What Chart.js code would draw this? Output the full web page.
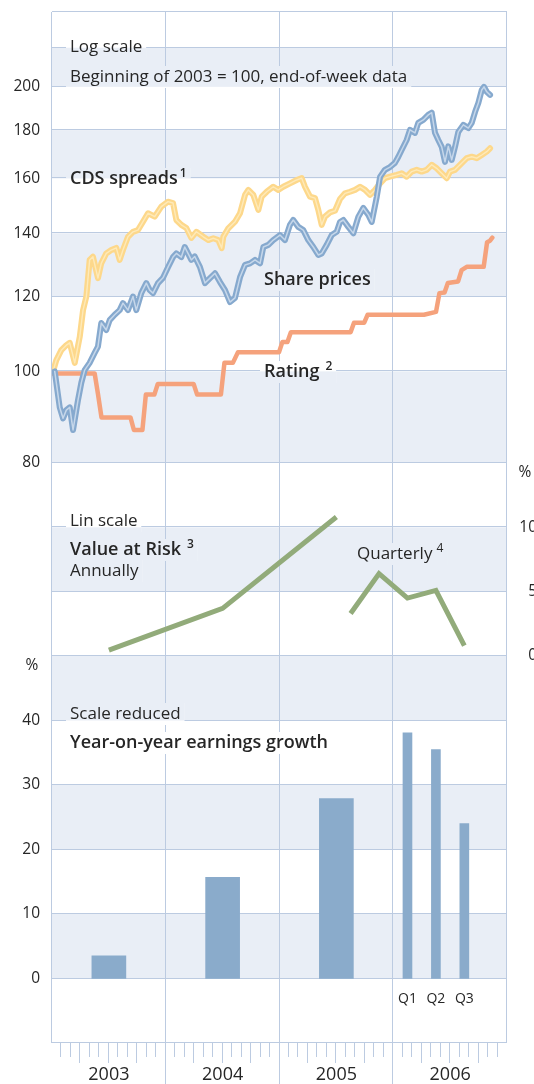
<!DOCTYPE html>
<html>
<head>
<meta charset="utf-8">
<script src="https://cdn.jsdelivr.net/npm/chart.js@4.4.1/dist/chart.umd.min.js"></script>
<style>
  html, body { margin: 0; padding: 0; width: 534px; height: 1084px; overflow: hidden; background: #fff; }
  canvas { position: absolute; left: 0; top: 0; }
</style>
</head>
<body>
<canvas id="chartLog" width="539" height="1084"></canvas>
<canvas id="chartVar" width="539" height="1084"></canvas>
<canvas id="chartEarn" width="539" height="1084"></canvas>
<script>
// --- datos (fecha en años decimales) ---
const shareDates = [2003.024, 2003.068, 2003.097, 2003.126, 2003.156, 2003.185, 2003.229, 2003.258, 2003.287, 2003.331, 2003.375, 2003.404, 2003.433, 2003.477, 2003.507, 2003.551, 2003.595, 2003.624, 2003.668, 2003.712, 2003.741, 2003.785, 2003.829, 2003.859, 2003.888, 2003.932, 2003.976,
  2004.020, 2004.064, 2004.093, 2004.137, 2004.167, 2004.196, 2004.225, 2004.255, 2004.301, 2004.345, 2004.389, 2004.433, 2004.477, 2004.521, 2004.565, 2004.609, 2004.653, 2004.697, 2004.741, 2004.785, 2004.829, 2004.858, 2004.902, 2004.945,
  2005.004, 2005.048, 2005.092, 2005.121, 2005.165, 2005.209, 2005.253, 2005.297, 2005.341, 2005.371, 2005.415, 2005.459, 2005.503, 2005.532, 2005.561, 2005.605, 2005.649, 2005.693, 2005.737, 2005.781, 2005.811, 2005.855, 2005.884, 2005.927, 2005.971,
  2006.015, 2006.044, 2006.074, 2006.118, 2006.147, 2006.191, 2006.220, 2006.264, 2006.308, 2006.338, 2006.367, 2006.396, 2006.426, 2006.455, 2006.484, 2006.514, 2006.543, 2006.572, 2006.616, 2006.660, 2006.690, 2006.719, 2006.748, 2006.778, 2006.798, 2006.822, 2006.851];
const shareValues = [100.0, 91.6, 89.2, 91.0, 91.6, 86.7, 93.3, 97.3, 100.3, 102.1, 104.6, 106.2, 112.5, 110.6, 113.3, 114.8, 116.1, 118.1, 116.1, 120.0, 116.1, 121.0, 124.0, 121.9, 121.0, 124.0, 125.6,
  128.9, 132.1, 133.3, 132.1, 135.4, 133.3, 131.2, 132.3, 128.9, 124.0, 125.5, 127.0, 124.3, 121.9, 118.4, 119.6, 125.8, 129.6, 130.1, 131.2, 130.1, 135.4, 136.1, 137.7,
  139.4, 137.7, 142.9, 144.6, 142.2, 141.1, 137.7, 135.4, 132.8, 133.3, 136.1, 139.4, 140.5, 143.9, 144.6, 142.2, 140.0, 145.7, 148.9, 146.4, 143.9, 153.0, 160.6, 163.4, 164.5,
  166.2, 168.6, 171.5, 175.7, 180.1, 178.8, 183.2, 184.5, 186.8, 187.8, 178.8, 175.7, 172.8, 166.6, 173.0, 167.4, 172.8, 179.2, 182.3, 180.9, 183.2, 188.1, 192.3, 198.5, 200.0, 197.6, 196.1];

const cdsDates = [2003.009, 2003.038, 2003.082, 2003.126, 2003.156, 2003.200, 2003.244, 2003.273, 2003.302, 2003.331, 2003.360, 2003.404, 2003.433, 2003.477, 2003.521, 2003.565, 2003.595, 2003.624, 2003.668, 2003.712, 2003.756, 2003.800, 2003.844, 2003.903, 2003.961,
  2004.020, 2004.064, 2004.093, 2004.137, 2004.181, 2004.225, 2004.269, 2004.330, 2004.374, 2004.418, 2004.462, 2004.492, 2004.506, 2004.550, 2004.609, 2004.653, 2004.697, 2004.726, 2004.770, 2004.814, 2004.844, 2004.888, 2004.945, 2004.989,
  2005.033, 2005.092, 2005.151, 2005.195, 2005.224, 2005.268, 2005.312, 2005.341, 2005.371, 2005.400, 2005.444, 2005.488, 2005.532, 2005.576, 2005.620, 2005.664, 2005.708, 2005.752, 2005.796, 2005.840, 2005.884, 2005.927, 2005.971,
  2006.030, 2006.074, 2006.118, 2006.162, 2006.206, 2006.250, 2006.294, 2006.338, 2006.382, 2006.426, 2006.470, 2006.499, 2006.543, 2006.587, 2006.646, 2006.690, 2006.734, 2006.778, 2006.822, 2006.851];
const cdsValues = [100.0, 102.8, 105.3, 106.6, 107.2, 102.1, 108.8, 116.1, 120.0, 131.2, 132.2, 125.5, 130.1, 133.3, 134.4, 135.1, 131.2, 134.4, 138.8, 140.5, 141.1, 144.0, 147.0, 145.8, 149.4,
  151.2, 150.7, 144.6, 142.9, 141.8, 138.4, 140.5, 138.8, 137.7, 138.3, 137.7, 135.0, 138.8, 141.7, 144.0, 147.0, 153.7, 155.6, 153.7, 148.2, 153.1, 154.9, 156.8, 155.6,
  156.8, 158.1, 159.4, 160.1, 156.8, 153.1, 152.5, 148.2, 142.9, 145.8, 147.3, 147.9, 152.2, 154.3, 154.9, 155.6, 156.8, 155.6, 153.7, 155.6, 158.1, 160.1, 160.7,
  161.4, 162.0, 160.7, 162.7, 163.4, 162.7, 163.4, 165.4, 164.0, 162.0, 160.1, 162.7, 163.4, 165.4, 168.1, 168.7, 168.1, 169.4, 170.8, 172.2];

const ratingDates = [2003.005, 2003.375, 2003.405, 2003.435, 2003.690, 2003.720, 2003.795, 2003.825, 2003.900, 2003.930, 2004.245, 2004.276, 2004.485, 2004.516, 2004.590, 2004.635, 2004.996, 2005.025,
  2005.070, 2005.100, 2005.625, 2005.655, 2005.745, 2005.775, 2006.270, 2006.376, 2006.406, 2006.451, 2006.480, 2006.570, 2006.601, 2006.646, 2006.795, 2006.825, 2006.851, 2006.871];
const ratingValues = [99.5, 99.5, 94.5, 89.4, 89.4, 86.7, 86.7, 94.5, 94.5, 97.0, 97.0, 94.5, 94.5, 102.1, 102.1, 104.8, 104.8, 107.4,
  107.4, 110.0, 110.0, 112.6, 112.6, 114.8, 114.8, 115.6, 121.0, 121.2, 124.0, 124.5, 128.0, 129.0, 129.0, 137.0, 137.5, 138.5];

const varAnnualDates = [2003.5, 2004.5, 2005.5];
const varAnnualValues = [0.45, 3.7, 10.8];
const varQuarterDates = [2005.625, 2005.875, 2006.125, 2006.375, 2006.625];
const varQuarterValues = [3.3, 6.4, 4.5, 5.1, 0.8];

const earnAnnualDates = [2003.5, 2004.5, 2005.5];
const earnAnnualValues = [3.5, 15.7, 27.9];
const earnQuarterDates = [2006.125, 2006.375, 2006.625];
const earnQuarterValues = [38.1, 35.5, 24.0];
const earnQuarterLabels = ['Q1', 'Q2', 'Q3'];

const years = [2003, 2004, 2005, 2006, 2007];
const logTicks = [80, 100, 120, 140, 160, 180, 200, 220];
const varTicks = [0, 5, 10];
const earnTicks = [0, 10, 20, 30, 40];

// --- estilos ---
const FONT = '"Open Sans", "Noto Sans", sans-serif';
const GRID = '#bccbe1';
const SHADE = '#e9eef6';
const TEXT = '#262626';

const pts = (xs, ys) => xs.map((x, i) => ({ x, y: ys[i] }));

function paintBg(chart, yScale, bands, x0, y0, w, h) {
  const { ctx, chartArea: a } = chart;
  ctx.save();
  ctx.beginPath();
  ctx.rect(x0, y0, w, h);
  ctx.clip();
  ctx.fillStyle = '#fff';
  ctx.fillRect(x0, y0, w, h);
  ctx.fillStyle = SHADE;
  bands.forEach(([v0, v1]) => {
    const p0 = yScale.getPixelForValue(v0), p1 = yScale.getPixelForValue(v1);
    ctx.fillRect(a.left, Math.min(p0, p1), a.right - a.left, Math.abs(p1 - p0));
  });
  ctx.restore();
}

function drawLabel(chart, yScale, bands, l) {
  const ctx = chart.ctx;
  const weight = l.bold ? 600 : 400;
  const main = `${weight} ${l.size || (l.bold ? 18 : 17)}px ${FONT}`;
  const sup = `${weight} 12px ${FONT}`;
  ctx.font = main;
  const w = ctx.measureText(l.text).width;
  let supW = 0;
  if (l.sup) { ctx.font = sup; supW = ctx.measureText(l.sup).width + (l.gap || 3); }
  if (l.box !== false) paintBg(chart, yScale, bands, l.x - 4, l.y - 11, w + supW + 8, 22);
  ctx.fillStyle = TEXT;
  ctx.textBaseline = 'middle';
  ctx.textAlign = l.align || 'left';
  ctx.font = main;
  ctx.fillText(l.text, l.x, l.y);
  if (l.sup) { ctx.font = sup; ctx.textAlign = 'left'; ctx.fillText(l.sup, l.x + w + (l.gap || 3), l.y - 5); }
}

// fondo, rejilla y textos de cada panel
const panelPlugin = {
  id: 'panel',
  beforeDraw(chart, args, opts) {
    const { ctx, chartArea: a, scales } = chart;
    const x = scales.x, y = scales.y;
    ctx.save();
    ctx.fillStyle = SHADE;
    opts.bands.forEach(([v0, v1]) => {
      const p0 = y.getPixelForValue(v0), p1 = y.getPixelForValue(v1);
      ctx.fillRect(a.left, Math.min(p0, p1), a.right - a.left, Math.abs(p1 - p0));
    });
    ctx.strokeStyle = GRID;
    ctx.lineWidth = 1;
    ctx.beginPath();
    opts.lines.forEach(v => {
      const p = Math.round(y.getPixelForValue(v)) - 0.5;
      ctx.moveTo(a.left, p); ctx.lineTo(a.right, p);
    });
    years.forEach((yr, i) => {
      const p = Math.round(x.getPixelForValue(yr)) - 0.5;
      const inner = i > 0 && i < years.length - 1;
      ctx.moveTo(p, a.top); ctx.lineTo(p, inner && opts.extend ? chart.height : a.bottom);
    });
    if (opts.monthTicks) {
      for (let m = 1; m < 48; m++) {
        if (m % 12 === 0) continue;
        const p = Math.round(x.getPixelForValue(2003 + m / 12)) - 0.5;
        ctx.moveTo(p, a.bottom); ctx.lineTo(p, a.bottom + (m % 3 === 0 ? 20 : 14));
      }
    }
    ctx.stroke();
    (opts.labels || []).forEach(l => drawLabel(chart, y, opts.bands, l));
    if (opts.barLabels) {
      ctx.font = `400 14px ${FONT}`;
      ctx.fillStyle = TEXT; ctx.textAlign = 'center'; ctx.textBaseline = 'middle';
      opts.barLabels.dates.forEach((d, i) => ctx.fillText(opts.barLabels.text[i], x.getPixelForValue(d), opts.barLabels.y));
    }
    ctx.restore();
  }
};

function xHidden() {
  return { type: 'linear', min: 2003, max: 2007, display: false };
}

function yAxis(type, min, max, ticks, pos, width, hide) {
  return {
    type, min, max, position: pos,
    grid: { display: false, drawTicks: true, tickLength: pos === 'left' ? 12 : 0 },
    border: { display: false },
    afterBuildTicks: s => { s.ticks = ticks.map(v => ({ value: v })); },
    afterFit: s => { s.width = width; },
    ticks: {
      autoSkip: false, padding: 0, crossAlign: pos === 'left' ? 'near' : 'far',
      color: TEXT, font: { family: FONT, size: 15.5 },
      callback: v => (hide && hide.includes(v)) ? '' : String(v)
    }
  };
}

const common = { responsive: false, animation: false, events: [] };
const noPlug = { legend: { display: false }, tooltip: { enabled: false } };

// --- panel superior: escala logarítmica ---
new Chart(document.getElementById('chartLog'), {
  type: 'line',
  data: {
    datasets: [
      { data: pts(ratingDates, ratingValues), borderColor: '#f5a27c', borderWidth: 4.5, order: 5 },
      { data: pts(cdsDates, cdsValues), borderColor: '#fdd88b', borderWidth: 6, order: 4 },
      { data: pts(cdsDates, cdsValues), borderColor: '#feeab9', borderWidth: 1.4, order: 3 },
      { data: pts(shareDates, shareValues), borderColor: '#86a9ce', borderWidth: 6, order: 2 },
      { data: pts(shareDates, shareValues), borderColor: '#c6d7ea', borderWidth: 1.5, order: 1 }
    ]
  },
  options: {
    ...common,
    layout: { padding: { left: 0, right: 32, top: 12, bottom: 621 } },
    elements: { point: { radius: 0 }, line: { tension: 0, borderJoinStyle: 'round', borderCapStyle: 'round' } },
    scales: { x: xHidden(), y: yAxis('logarithmic', 80, 240, logTicks, 'left', 52, [220]) },
    plugins: {
      ...noPlug,
      panel: {
        bands: [[80, 100], [120, 140], [160, 180], [200, 220]],
        lines: [...logTicks, 240],
        labels: [
          { text: 'Log scale', x: 70, y: 47 },
          { text: 'Beginning of 2003 = 100, end-of-week data', x: 70, y: 77 },
          { text: 'CDS spreads', sup: '1', gap: 2, x: 70, y: 179, bold: true },
          { text: 'Share prices', x: 264, y: 280, bold: true },
          { text: 'Rating', sup: '2', gap: 6, x: 264, y: 372, bold: true }
        ]
      }
    }
  },
  plugins: [panelPlugin]
});

// --- panel central: Value at Risk ---
new Chart(document.getElementById('chartVar'), {
  type: 'line',
  data: {
    datasets: [
      { data: pts(varAnnualDates, varAnnualValues), borderColor: '#92ab7a', borderWidth: 5 },
      { data: pts(varQuarterDates, varQuarterValues), borderColor: '#92ab7a', borderWidth: 5 }
    ]
  },
  options: {
    ...common,
    layout: { padding: { left: 52, right: 2, top: 463, bottom: 428 } },
    elements: { point: { radius: 0 }, line: { tension: 0, borderJoinStyle: 'miter', borderCapStyle: 'butt' } },
    scales: { x: xHidden(), y: yAxis('linear', 0, 15, varTicks, 'right', 30) },
    plugins: {
      ...noPlug,
      panel: {
        bands: [[5, 10]],
        lines: [0, 5, 10, 15],
        labels: [
          { text: 'Lin scale', x: 70, y: 521 },
          { text: 'Value at Risk', sup: '3', gap: 6, x: 70, y: 550, bold: true },
          { text: 'Annually', x: 70, y: 571 },
          { text: 'Quarterly', sup: '4', gap: 4, x: 357, y: 554 },
          { text: '%', x: 525, y: 473, size: 15.5, align: 'center', box: false }
        ]
      }
    }
  },
  plugins: [panelPlugin]
});

// --- panel inferior: crecimiento de beneficios ---
new Chart(document.getElementById('chartEarn'), {
  type: 'bar',
  data: {
    datasets: [
      { data: pts(earnAnnualDates, earnAnnualValues), backgroundColor: '#8aabcb', barThickness: 34, grouped: false },
      { data: pts(earnQuarterDates, earnQuarterValues), backgroundColor: '#8aabcb', barThickness: 9, grouped: false }
    ]
  },
  options: {
    ...common,
    layout: { padding: { left: 0, right: 32, top: 656, bottom: 0 } },
    scales: {
      x: {
        type: 'linear', min: 2003, max: 2007, offset: false,
        grid: { display: false, drawTicks: true, tickLength: 0 }, border: { display: false },
        afterBuildTicks: s => { s.ticks = years.slice(0, 4).map(v => ({ value: v + 0.5 })); },
        afterFit: s => { s.height = 41; },
        ticks: { autoSkip: false, maxRotation: 0, padding: 21, color: TEXT, font: { family: FONT, size: 18, weight: 500 }, callback: v => String(Math.floor(v)) }
      },
      y: yAxis('linear', -10, 50, earnTicks, 'left', 52)
    },
    plugins: {
      ...noPlug,
      panel: {
        bands: [[0, 10], [20, 30], [40, 50]],
        lines: [-10, 0, 10, 20, 30, 40, 50],
        extend: true,
        monthTicks: true,
        barLabels: { dates: earnQuarterDates, text: earnQuarterLabels, y: 999 },
        labels: [
          { text: '%', x: 32, y: 666, size: 15.5, align: 'center', box: false },
          { text: 'Scale reduced', x: 70, y: 714 },
          { text: 'Year-on-year earnings growth', x: 70, y: 743, bold: true }
        ]
      }
    }
  },
  plugins: [panelPlugin]
});
</script>
</body>
</html>
